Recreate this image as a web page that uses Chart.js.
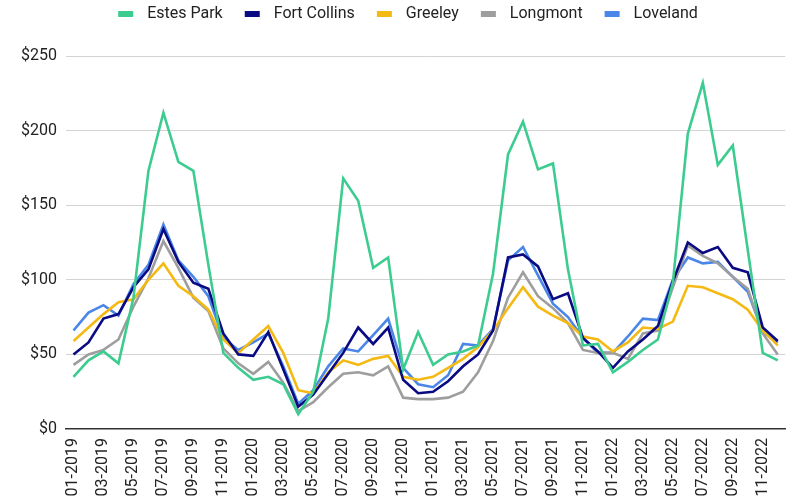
<!DOCTYPE html>
<html>
<head>
<meta charset="utf-8">
<script src="https://cdn.jsdelivr.net/npm/chart.js@4.4.1/dist/chart.umd.min.js"></script>
<style>
html,body{margin:0;padding:0;background:#ffffff;}
#wrap{width:806px;height:502px;position:relative;}
</style>
</head>
<body>
<div id="wrap"><canvas id="c" width="806" height="502"></canvas></div>
<script>
const months = [
  '01-2019','02-2019','03-2019','04-2019','05-2019','06-2019','07-2019','08-2019','09-2019','10-2019','11-2019','12-2019',
  '01-2020','02-2020','03-2020','04-2020','05-2020','06-2020','07-2020','08-2020','09-2020','10-2020','11-2020','12-2020',
  '01-2021','02-2021','03-2021','04-2021','05-2021','06-2021','07-2021','08-2021','09-2021','10-2021','11-2021','12-2021',
  '01-2022','02-2022','03-2022','04-2022','05-2022','06-2022','07-2022','08-2022','09-2022','10-2022','11-2022','12-2022'
];

const estesPark = [
  35, 46, 52, 44, 88, 173, 212, 179, 173, 110, 51, 41,
  33, 35, 30, 10, 25, 74, 168, 153, 108, 115, 40, 65,
  43, 50, 52, 56, 104, 184, 206, 174, 178, 107, 56, 57,
  38, 45, 53, 60, 98, 198, 232, 177, 190, 120, 51, 46
];
const fortCollins = [
  50, 58, 74, 77, 95, 107, 134, 112, 98, 94, 64, 50,
  49, 65, 40, 15, 23, 37, 51, 68, 57, 68, 33, 24,
  25, 32, 42, 50, 66, 115, 117, 109, 87, 91, 61, 52,
  41, 52, 60, 69, 99, 125, 118, 122, 108, 105, 68, 59
];
const greeley = [
  59, 68, 77, 85, 87, 100, 111, 96, 89, 80, 60, 51,
  60, 69, 51, 26, 24, 38, 46, 43, 47, 49, 35, 33,
  35, 41, 47, 55, 66, 81, 95, 82, 76, 71, 62, 60,
  52, 58, 68, 67, 72, 96, 95, 91, 87, 80, 66, 56
];
const longmont = [
  43, 50, 53, 60, 82, 101, 126, 108, 88, 79, 54, 44,
  37, 45, 31, 12, 18, 28, 37, 38, 36, 42, 21, 20,
  20, 21, 25, 38, 59, 88, 105, 89, 81, 71, 53, 51,
  51, 47, 64, 66, 95, 123, 116, 111, 102, 94, 64, 50
];
const loveland = [
  66, 78, 83, 76, 97, 110, 137, 113, 102, 89, 61, 53,
  58, 64, 42, 17, 26, 42, 54, 52, 63, 74, 41, 30,
  28, 36, 57, 56, 67, 113, 122, 103, 84, 75, 61, 51,
  51, 62, 74, 73, 100, 115, 111, 112, 102, 92, 65, 58
];
const yTicks = [0, 50, 100, 150, 200, 250];

const seriesNames = ['Estes Park', 'Fort Collins', 'Greeley', 'Longmont', 'Loveland'];
const seriesColors = ['#3dcc8f', '#0a0a82', '#f5b914', '#9e9e9e', '#4a86e8'];
const seriesData = [estesPark, fortCollins, greeley, longmont, loveland];

function legendBox(color) {
  const c = document.createElement('canvas');
  c.width = 37; c.height = 6;
  const g = c.getContext('2d');
  g.fillStyle = color;
  g.fillRect(16, 0, 15, 6);
  return c;
}

const FONT = 'Roboto, "Noto Sans", sans-serif';

const legendHeight = {
  id: 'legendHeight',
  beforeInit(chart) {
    const orig = chart.legend.fit;
    chart.legend.fit = function () {
      orig.call(this);
      this.height = 56;
    };
  }
};

new Chart(document.getElementById('c'), {
  type: 'line',
  data: {
    labels: months,
    datasets: seriesNames.map((n, k) => ({
      label: n,
      data: seriesData[k],
      borderColor: seriesColors[k],
      backgroundColor: seriesColors[k],
      borderWidth: 2.6,
      pointRadius: 0,
      pointHoverRadius: 0,
      pointStyle: legendBox(seriesColors[k]),
      tension: 0,
      fill: false
    }))
  },
  options: {
    responsive: false,
    animation: false,
    devicePixelRatio: 1,
    layout: { padding: { left: 0, right: 6, top: 0, bottom: 0 } },
    plugins: {
      tooltip: { enabled: false },
      legend: {
        position: 'top',
        align: 'center',
        labels: {
          usePointStyle: true,
          pointStyleWidth: 37,
          boxHeight: 6,
          padding: 6,
          color: '#222222',
          font: { family: FONT, size: 16 }
        }
      }
    },
    scales: {
      x: {
        offset: true,
        grid: { display: false, drawTicks: false },
        border: { display: true, color: '#333333', width: 1.5 },
        ticks: {
          autoSkip: false,
          maxRotation: 90,
          minRotation: 90,
          padding: 9,
          color: '#222222',
          font: { family: FONT, size: 16 },
          callback: function (v, i) { return i % 2 === 0 ? months[i] : ''; }
        },
        afterFit(scale) { scale.height = 73; }
      },
      y: {
        min: 0,
        max: 250,
        afterBuildTicks(scale) { scale.ticks = yTicks.map(v => ({ value: v })); },
        grid: {
          drawTicks: false,
          color: ctx => (ctx.tick && ctx.tick.value === 0) ? 'rgba(0,0,0,0)' : '#d3d3d3',
          lineWidth: 1
        },
        border: { display: false },
        ticks: {
          padding: 9,
          color: '#222222',
          font: { family: FONT, size: 16 },
          callback: v => '$' + v
        },
        afterFit(scale) { scale.width = 66; }
      }
    }
  },
  plugins: [legendHeight]
});
</script>
</body>
</html>
